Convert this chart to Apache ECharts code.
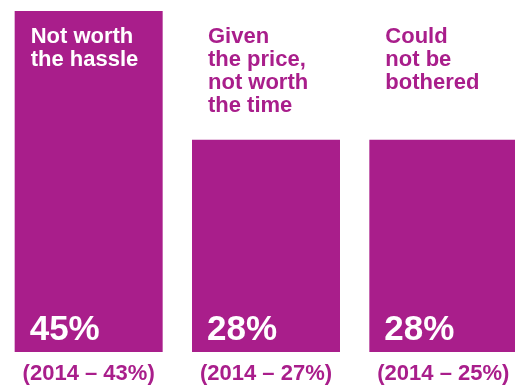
<!DOCTYPE html>
<html>
<head>
<meta charset="utf-8">
<script src="https://cdn.jsdelivr.net/npm/echarts@6/dist/echarts.min.js"></script>
<style>
  html, body { margin: 0; padding: 0; background: #ffffff; }
  #chart { width: 515px; height: 387px; }
</style>
</head>
<body>
<div id="chart"></div>
<script>
// Reasons given, share of respondents (%)
const reasons = ['Not worth\nthe hassle', 'Given\nthe price,\nnot worth\nthe time', 'Could\nnot be\nbothered'];
const share2015 = [45, 28, 28];
const share2014 = [43, 27, 25];
const axisMax = 45;

const MAGENTA = '#a91e8b';
const FONT = '"Liberation Sans", Arial, Helvetica, sans-serif';

const chart = echarts.init(document.getElementById('chart'), null, { renderer: 'canvas' });

// Caption above (or inside) each bar: white when the bar reaches the top, magenta otherwise
const captionData = reasons.map((name, i) => ({
  value: axisMax,
  label: { color: share2015[i] >= axisMax ? '#ffffff' : MAGENTA }
}));

chart.setOption({
  animation: false,
  // the last bar runs off the right edge of the canvas
  grid: { left: 0, top: 11, width: 532, height: 341, containLabel: false, outerBoundsMode: 'none' },
  xAxis: {
    type: 'category',
    data: reasons,
    axisLine: { show: false },
    axisTick: { show: false },
    splitLine: { show: false },
    axisLabel: {
      interval: 0,
      hideOverlap: false,
      margin: 11,
      fontFamily: FONT,
      fontWeight: 'bold',
      fontSize: 22,
      lineHeight: 22,
      color: MAGENTA,
      formatter: (v, i) => '(2014 \u2013 ' + share2014[i] + '%)'
    }
  },
  yAxis: {
    type: 'value',
    min: 0,
    max: axisMax,
    show: false,
    splitLine: { show: false }
  },
  series: [
    {
      type: 'bar',
      data: share2015,
      barWidth: 148,
      itemStyle: { color: MAGENTA },
      label: {
        show: true,
        position: 'insideBottomLeft',
        distance: 0,
        offset: [15, -4],
        fontFamily: FONT,
        fontWeight: 'bold',
        fontSize: 35,
        lineHeight: 35,
        color: '#ffffff',
        formatter: p => p.value + '%'
      }
    },
    {
      type: 'bar',
      data: captionData,
      barWidth: 148,
      barGap: '-100%',
      silent: true,
      itemStyle: { color: 'rgba(0,0,0,0)' },
      label: {
        show: true,
        position: [16, 14],
        align: 'left',
        verticalAlign: 'top',
        fontFamily: FONT,
        fontWeight: 'bold',
        fontSize: 22,
        lineHeight: 23,
        formatter: p => reasons[p.dataIndex]
      }
    }
  ]
});
</script>
</body>
</html>
